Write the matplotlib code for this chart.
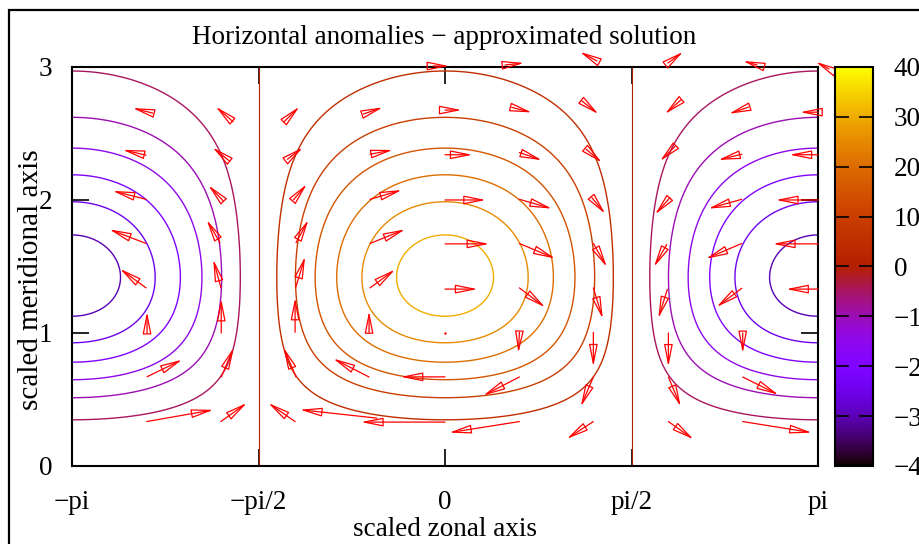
import numpy as np
import matplotlib
matplotlib.use("Agg")
import matplotlib.pyplot as plt
from matplotlib.colors import ListedColormap, Normalize
from matplotlib.cm import ScalarMappable
from matplotlib.patches import Rectangle

plt.rcParams['font.family'] = ['Liberation Serif', 'DejaVu Serif']
FS = 19.5

# pressure-like anomaly: amplitude, zonal cos structure, meridional profile
# (profile read from where the contours cross x=0 and x=-pi)
P_MAX = 33.0
PROFILE_Y = [0.35, 0.507, 0.65, 0.785, 0.933, 1.128, 1.44,
             1.747, 1.98, 2.185, 2.388, 2.625, 2.967]
PROFILE_G = [0.152, 0.303, 0.455, 0.606, 0.758, 0.909, 1.0,
             0.909, 0.758, 0.606, 0.455, 0.303, 0.152]
LEVELS = [-30, -25, -20, -15, -10, -5, 0, 5, 10, 15, 20, 25, 30]

# velocity arrows: tail (x, y) and components (u, v), data units
ARROW_X = [0.0, 0.0, 0.0, 0.0, 0.0, 0.0, 0.0,
           -0.688, -0.632, -0.632, -0.632, -0.632, -0.640, -0.640, -0.575,
           0.562, 0.626, 0.626, 0.626, 0.626, 0.626, 0.626, 0.626,
           -1.356, -1.328, -1.278, -1.255, -1.257, -1.263, -1.255, -1.263,
           1.151, 1.188, 1.236, 1.249, 1.249, 1.249, 1.249, 1.249,
           -2.462, -2.518, -2.518, -2.518, -2.518, -2.510, -2.510, -2.513,
           -1.785, -1.817, -1.867, -1.895, -1.887, -1.885, -1.885, -1.889,
           1.988, 1.937, 1.895, 1.867, 1.872, 1.881, 1.881, 1.881,
           2.555, 2.499, 2.499, 2.499, 2.499, 2.507, 2.507, 2.507,
           3.1416, 3.1416, 3.1416, 3.1416, 3.1416,
           -0.101, 0.505, 1.280, 1.878, 2.628, 3.234,
           0.0]
ARROW_Y = [2.676, 2.34, 2.0, 1.67, 1.33, 0.67, 0.33,
           2.646, 2.344, 2.005, 1.673, 1.339, 1.005, 0.669, 0.360,
           2.696, 2.357, 2.005, 1.673, 1.339, 1.005, 0.669, 0.334,
           2.588, 2.306, 2.000, 1.679, 1.344, 1.005, 0.669, 0.334,
           2.746, 2.382, 2.018, 1.673, 1.339, 1.005, 0.669, 0.334,
           2.653, 2.337, 2.005, 1.673, 1.339, 1.000, 0.671, 0.334,
           2.588, 2.294, 1.992, 1.679, 1.339, 1.000, 0.669, 0.334,
           2.753, 2.402, 2.018, 1.666, 1.327, 1.000, 0.669, 0.334,
           2.698, 2.344, 2.005, 1.673, 1.336, 1.000, 0.669, 0.334,
           2.66, 2.34, 2.0, 1.67, 1.33,
           3.007, 3.015, 3.045, 3.03, 3.015, 2.985,
           1.0]
ARROW_U = [0.138, 0.230, 0.343, 0.371, 0.272, -0.373, -0.707,
           0.163, 0.191, 0.267, 0.295, 0.211, 0.0, -0.301, -0.646,
           0.168, 0.189, 0.273, 0.301, 0.217, -0.008, -0.303, -0.590,
           0.129, 0.130, 0.113, 0.104, 0.078, 0.0, -0.105, -0.225,
           0.140, 0.132, 0.112, 0.113, 0.079, 0.0, -0.106, -0.224,
           -0.168, -0.196, -0.280, -0.309, -0.219, 0.0, 0.295, 0.561,
           -0.146, -0.140, -0.126, -0.112, -0.065, 0.0, 0.106, 0.219,
           -0.135, -0.126, -0.126, -0.107, -0.076, 0.0, 0.104, 0.211,
           -0.163, -0.197, -0.281, -0.301, -0.211, 0.0, 0.300, 0.581,
           -0.15, -0.239, -0.354, -0.379, -0.267,
           0.135, 0.160, -0.143, 0.126, -0.118, -0.11,
           0.0]
ARROW_V = [0.0, 0.0, 0.0, 0.0, 0.0, 0.0, 0.0,
           0.050, 0.032, 0.070, 0.106, 0.138, 0.158, 0.138, 0.063,
           -0.038, -0.058, -0.070, -0.113, -0.146, -0.155, -0.139, -0.083,
           0.113, 0.088, 0.118, 0.170, 0.229, 0.259, 0.221, 0.139,
           -0.100, -0.100, -0.121, -0.176, -0.231, -0.256, -0.222, -0.130,
           0.038, 0.040, 0.063, 0.106, 0.143, 0.158, 0.128, 0.088,
           0.113, 0.101, 0.118, 0.170, 0.213, 0.256, 0.221, 0.139,
           -0.106, -0.109, -0.126, -0.168, -0.216, -0.252, -0.222, -0.133,
           -0.050, -0.043, -0.070, -0.115, -0.140, -0.151, -0.133, -0.083,
           0.0, 0.0, 0.0, 0.0, 0.0,
           0.0, 0.015, 0.068, 0.083, 0.03, 0.053,
           0.0]

XTICKS = [-np.pi, -np.pi / 2, 0, np.pi / 2, np.pi]
XTICKLABELS = ['\u2212pi', '\u2212pi/2', '0', 'pi/2', 'pi']
YTICKS = [0, 1, 2, 3]
CB_TICKS = [-40, -30, -20, -10, 0, 10, 20, 30, 40]

# gnuplot default palette (rgbformulae 7,5,15)
t = np.linspace(0, 1, 256)
pal = np.column_stack([np.sqrt(t), t ** 3, np.clip(np.sin(2 * np.pi * t), 0, 1)])
cmap = ListedColormap(pal)
norm = Normalize(-40, 40)

fig = plt.figure(figsize=(9.2, 5.44), dpi=100)
ax = fig.add_axes([0.0783, 0.1434, 0.8109, 0.7335])

coef = np.polyfit(PROFILE_Y, np.log(PROFILE_G), 5)
xg = np.linspace(-np.pi, np.pi, 500)
yg = np.linspace(0, 3, 400)
g = np.exp(np.polyval(coef, yg))
Z = P_MAX * np.outer(g, np.cos(xg))
lws = [0.8 if lev == 0 else 1.0 for lev in LEVELS]
ax.contour(xg, yg, Z, levels=LEVELS, cmap=cmap, norm=norm, linewidths=lws)

for x, y, u, v in zip(ARROW_X, ARROW_Y, ARROW_U, ARROW_V):
    if u == 0 and v == 0:
        ax.plot(x, y, '.', color='red', ms=1.5, clip_on=False)
        continue
    ax.annotate('', xy=(x + u, y + v), xytext=(x, y),
                arrowprops=dict(arrowstyle='-|>,head_length=1.35,head_width=0.27',
                                ec='red', fc='none', lw=0.9,
                                shrinkA=0, shrinkB=0),
                annotation_clip=False)

ax.set_xlim(-np.pi, np.pi)
ax.set_ylim(0, 3)
ax.set_xticks(XTICKS)
ax.set_xticklabels(XTICKLABELS)
ax.set_yticks(YTICKS)
ax.tick_params(direction='in', top=True, right=True, length=12.5, width=1.2,
               labelsize=FS, color='black')
ax.tick_params(axis='x', pad=17)
ax.tick_params(axis='y', pad=14)
for s in ax.spines.values():
    s.set_linewidth(1.5)

ax.set_xlabel('scaled zonal axis', fontsize=FS)
ax.xaxis.set_label_coords(0.5, -0.128)
ax.set_ylabel('scaled meridional axis', fontsize=21)
ax.yaxis.set_label_coords(-0.037, 0.466)
fig.text(444.5 / 920, 1 - 37 / 544, 'Horizontal anomalies \u2212 approximated solution',
         fontsize=FS, ha='center', va='center')

cax = fig.add_axes([835 / 920, 0.1434, 38 / 920, 0.7335])
cb = fig.colorbar(ScalarMappable(norm=norm, cmap=cmap), cax=cax, ticks=CB_TICKS)
cb.outline.set_linewidth(1.5)
cax.tick_params(direction='in', left=True, right=True, length=10, width=1.2,
                labelsize=FS, pad=15)

fig.add_artist(Rectangle((9 / 920, -0.1), 1.2, 1.1 - 10.5 / 544,
                         transform=fig.transFigure, fill=False, lw=1.6,
                         ec='black'))

fig.savefig('out.png', dpi=100)
